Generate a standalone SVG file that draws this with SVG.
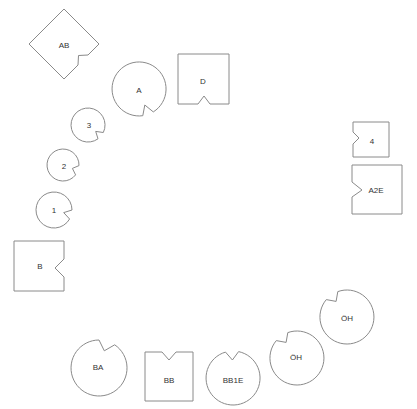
<svg xmlns="http://www.w3.org/2000/svg" width="417" height="409" viewBox="0 0 417 409">
<style>
.s{fill:#fff;stroke:#8a8a8a;stroke-width:1;stroke-linejoin:miter}
.t{font-family:"Liberation Sans",Arial,sans-serif;font-size:8px;fill:#333;text-anchor:middle;dominant-baseline:central}
</style>
<rect width="417" height="409" fill="#fff"/>
<g id="connectors"/>
<g id="node-AB"><path class="s" d="M64,9 L99,44 L88,55 L78.5,55.5 L78,65 L64,79 L29,44 Z"/><text class="t" x="64" y="45">AB</text></g>
<g id="node-A"><path class="s" d="M142.8,115.7 A27,27 0 1 1 153.3,111.9 L144.8,105 Z"/><text class="t" x="139" y="90">A</text></g>
<g id="node-D"><path class="s" d="M178,54 H229 V104 H210 L204,96 L198,104 H178 Z"/><text class="t" x="203" y="81">D</text></g>
<g id="node-3"><path class="s" d="M98,138.8 A17,17 0 1 1 103.3,132.5 L95.7,131.4 Z"/><text class="t" x="89" y="125">3</text></g>
<g id="node-2"><path class="s" d="M75.6,174.9 A16,16 0 1 1 79,165.6 L72.4,168.4 Z"/><text class="t" x="64" y="166">2</text></g>
<g id="node-1"><path class="s" d="M69.6,219 A18,18 0 1 1 72,210 L63.7,212.6 Z"/><text class="t" x="54" y="210">1</text></g>
<g id="node-B"><path class="s" d="M14,241 H64 V259 L55,268 L64,277 V291 H14 Z"/><text class="t" x="40" y="266">B</text></g>
<g id="node-4"><path class="s" d="M353,122 H389 V157 H353 V144 L359,138 L353,132 Z"/><text class="t" x="372" y="141">4</text></g>
<g id="node-A2E"><path class="s" d="M352,165 H402 V214 H352 V197 L362,190 L352,182 Z"/><text class="t" x="376" y="190">A2E</text></g>
<g id="node-BA"><path class="s" d="M114.7,344.8 A28,28 0 1 1 99,340 L104.3,350.8 Z"/><text class="t" x="98" y="367">BA</text></g>
<g id="node-BB"><path class="s" d="M145,352 H162 L169,360 L176,352 H193 V401 H145 Z"/><text class="t" x="169" y="380">BB</text></g>
<g id="node-BB1E"><path class="s" d="M238.6,351.6 A27,27 0 1 1 225.5,352.1 L232.4,360 Z"/><text class="t" x="233" y="380">BB1E</text></g>
<g id="node-OH1"><path class="s" d="M287.8,332.6 A27,27 0 1 1 276.3,340.6 L286.1,342.4 Z"/><text class="t" x="296" y="357">ÖH</text></g>
<g id="node-OH2"><path class="s" d="M337.8,291.6 A27,27 0 1 1 326.3,299.6 L336.1,301.4 Z"/><text class="t" x="347" y="318">ÖH</text></g>
</svg>
